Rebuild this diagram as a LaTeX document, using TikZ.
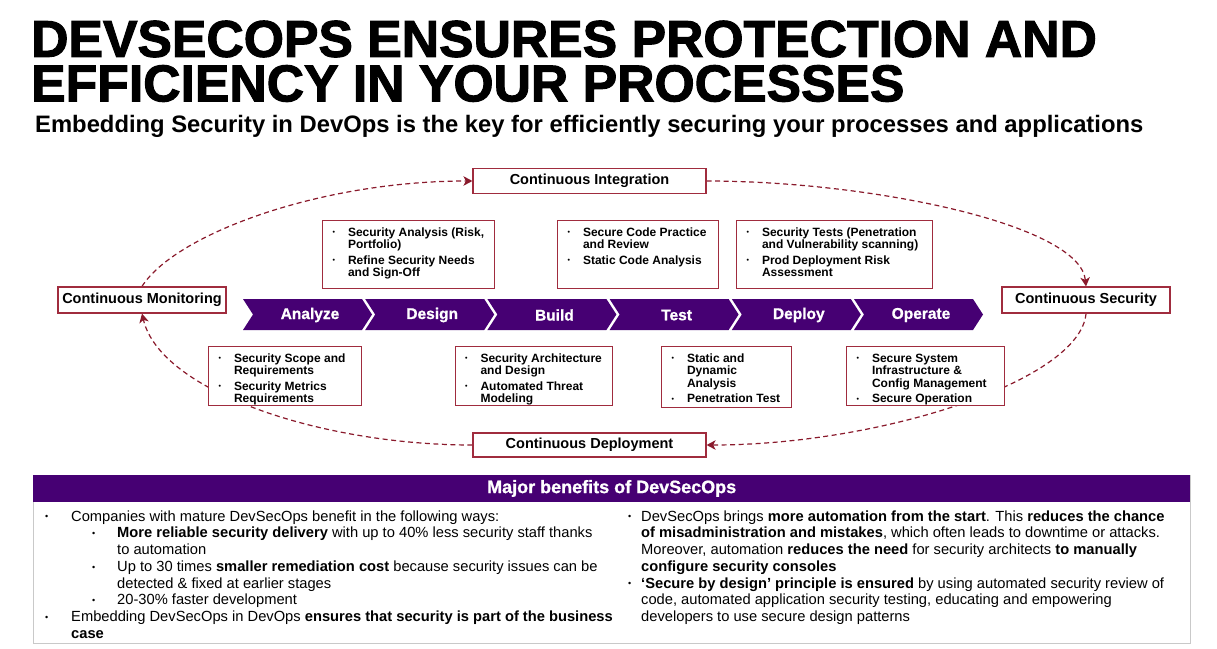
\documentclass[tikz,border=0pt]{standalone}
\usepackage{fontspec}
\setmainfont{Liberation Sans}
\newfontfamily\titlefont[FakeBold=2]{Liberation Sans Bold}
\newfontfamily\semiheavy[FakeBold=1]{Liberation Sans Bold}
\usetikzlibrary{arrows.meta}
\pgfdeclarelayer{bg}
\pgfsetlayers{bg,main}
\definecolor{dxpurple}{HTML}{460073}
\definecolor{boxred}{HTML}{A02C3E}
\definecolor{arrowred}{HTML}{8A1A2C}
\definecolor{panelgray}{HTML}{C9C9C9}

\newlength\bulind \setlength\bulind{25.5pt}
\newcommand\smallbul{\raisebox{1.6pt}{\fontsize{7}{7}\selectfont\textbullet}}
\newcommand\bfirst[1]{\noindent\rule{0pt}{15.5pt}\hangindent=\bulind\hangafter=1\hbox to \bulind{\hskip10pt\smallbul\hfil}#1\par}
\newcommand\bnext[1]{\vskip2.8pt\noindent\hangindent=\bulind\hangafter=1\hbox to \bulind{\hskip10pt\smallbul\hfil}#1\par}
\newcommand\secbox[3]{\parbox[t][#2][t]{#1}{\fontsize{12}{12.7}\selectfont\bfseries\rightskip=0pt plus 1fil\relax #3}}
\newcommand\pbul{\raisebox{1.2pt}{\fontsize{9}{9}\selectfont\textbullet}}
\newcommand\bodyfont{\fontsize{14.7}{16.75}\selectfont}

\tikzset{
  sbox/.style={draw=boxred, line width=1.1pt, fill=white, inner sep=0pt, anchor=north west},
  cbox/.style={draw=boxred, line width=1.2pt, fill=white, inner sep=0pt, font=\bfseries\fontsize{14.5}{14.5}\selectfont},
  chevlabel/.style={text=white, inner sep=0pt, font=\semiheavy\fontsize{15.5}{15.5}\selectfont},
  arr/.style={draw=arrowred, line width=1.2pt, dash pattern=on 5pt off 3.5pt, -{Stealth[length=9pt,width=9.5pt,inset=2.5pt]}},
  pline/.style={anchor=base west, inner sep=0pt, font=\bodyfont},
  ttl/.style={anchor=north west, inner sep=0pt, align=left, font=\titlefont\fontsize{51.7}{44.5}\selectfont},
}

\begin{document}
\begin{tikzpicture}[x=1pt,y=-1pt]
\useasboundingbox (0,0) rectangle (1217,648);
\begin{pgfonlayer}{bg}
\fill[white] (0,0) rectangle (1217,648);
\end{pgfonlayer}

% Title
\node[ttl] (title) at (31,20.5) {DEVSECOPS ENSURES PROTECTION AND\\EFFICIENCY IN YOUR PROCESSES};
\node[anchor=base west, inner sep=0pt] (subtitle) at (35,132) {\resizebox{1108pt}{!}{\bfseries Embedding Security in DevOps is the key for efficiently securing your processes and applications}};

% Cycle boxes
\node[cbox, minimum width=233pt, minimum height=25pt] (ci) at (589.5,181) {Continuous Integration};
\node[cbox, minimum width=168pt, minimum height=26pt] (cm) at (142,300) {Continuous Monitoring};
\node[cbox, minimum width=168pt, minimum height=26pt] (cs) at (1086,300) {Continuous Security};
\node[cbox, minimum width=233pt, minimum height=24pt] (cd) at (589.5,445) {Continuous Deployment};

% Chevrons
\foreach \i/\lab in {0/Analyze,1/Design,2/Build,3/Test,4/Deploy,5/Operate} {
  \pgfmathsetmacro\xa{243+122.2*\i}
  \fill[dxpurple] (\xa,299) -- ++(119,0) -- ++(10,15.5) -- ++(-10,15.5) -- ++(-119,0) -- ++(10,-15.5) -- cycle;
  \node[chevlabel] (ch\i) at (\xa+67,315) {\lab};
}

% Top boxes
\node[sbox] (ba) at (322,220) {\secbox{172pt}{68pt}{\bfirst{Security Analysis (Risk,\\Portfolio)}\bnext{Refine Security Needs\\and Sign-Off}}};
\node[sbox] (bb) at (557,220) {\secbox{161pt}{68pt}{\bfirst{Secure Code Practice\\and Review}\bnext{Static Code Analysis}}};
\node[sbox] (bc) at (736,220) {\secbox{196pt}{68pt}{\bfirst{Security Tests (Penetration\\and Vulnerability scanning)}\bnext{Prod Deployment Risk\\Assessment}}};

% Bottom boxes
\node[sbox] (bd) at (208,346) {\secbox{153pt}{59pt}{\bfirst{Security Scope and\\Requirements}\bnext{Security Metrics\\Requirements}}};
\node[sbox] (be) at (454.5,346) {\secbox{157pt}{59pt}{\bfirst{Security Architecture\\and Design}\bnext{Automated Threat\\Modeling}}};
\node[sbox] (bf) at (661,346) {\secbox{130pt}{61pt}{\bfirst{Static and\\Dynamic\\Analysis}\bnext{Penetration Test}}};
\node[sbox] (bg) at (846,346) {\secbox{157.5pt}{59pt}{\bfirst{Secure System\\Infrastructure \&\\Config Management}\bnext{Secure Operation}}};

% Dashed cycle arrows
\begin{pgfonlayer}{bg}
\draw[arr] (cm.north) .. controls +(33,-52) and +(-153,0) .. (ci.west);
\draw[arr] (ci.east) .. controls +(164,0) and +(-6,-62) .. (cs.north);
\draw[arr] (cs.south) .. controls +(-6,67) and +(174,0) .. (cd.east);
\draw[arr] (cd.west) .. controls +(-153,0) and +(18,77) .. (cm.south);
\end{pgfonlayer}

% Benefits panel
\node[draw=panelgray, line width=1pt, minimum width=1157pt, minimum height=168pt, anchor=north west, inner sep=0pt] (panel) at (33,475) {};
\node[fill=dxpurple, minimum width=1157pt, minimum height=26.5pt, anchor=north west, inner sep=0pt, text=white, font=\semiheavy\fontsize{18}{18}\selectfont] (hdr) at (33,475) {Major benefits of DevSecOps};

% Left column
\node[pline] (l1) at (45,521) {\makebox[26pt][l]{\pbul}Companies with mature DevSecOps benefit in the following ways:};
\node[pline] (l2) at (92,537.75) {\makebox[25pt][l]{\pbul}\textbf{More reliable security delivery} with up to 40\% less security staff thanks};
\node[pline] (l3) at (117,554.5) {to automation};
\node[pline] (l4) at (92,571.25) {\makebox[25pt][l]{\pbul}Up to 30 times \textbf{smaller remediation cost} because security issues can be};
\node[pline] (l5) at (117,588) {detected \& fixed at earlier stages};
\node[pline] (l6) at (92,604.75) {\makebox[25pt][l]{\pbul}20-30\% faster development};
\node[pline] (l7) at (45,621.5) {\makebox[26pt][l]{\pbul}Embedding DevSecOps in DevOps \textbf{ensures that security is part of the business}};
\node[pline] (l8) at (71,638.25) {\textbf{case}};

% Right column
\node[pline] (r1) at (628,521) {\makebox[13pt][l]{\pbul}DevSecOps brings \textbf{more automation from the start}. This \textbf{reduces the chance}};
\node[pline] (r2) at (641,537.75) {\textbf{of misadministration and mistakes}, which often leads to downtime or attacks.};
\node[pline] (r3) at (641,554.5) {Moreover, automation \textbf{reduces the need} for security architects \textbf{to manually}};
\node[pline] (r4) at (641,571.25) {\textbf{configure security consoles}};
\node[pline] (r5) at (628,588) {\makebox[13pt][l]{\pbul}\textbf{‘Secure by design’ principle is ensured} by using automated security review of};
\node[pline] (r6) at (641,604.75) {code, automated application security testing, educating and empowering};
\node[pline] (r7) at (641,621.5) {developers to use secure design patterns};
\end{tikzpicture}
\end{document}
